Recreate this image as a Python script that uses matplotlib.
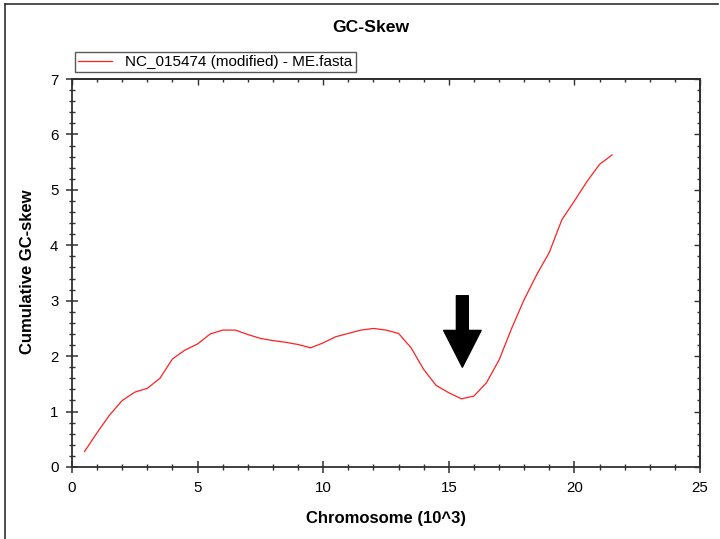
"""
GC-skew plot, cumulative skew along the chromosome.
"""

import matplotlib
matplotlib.use("Agg")
import matplotlib.pyplot as plt
from matplotlib.lines import Line2D
from matplotlib.ticker import MultipleLocator

plt.rcParams["font.family"] = ["Liberation Sans", "DejaVu Sans"]

# data
position_kb = [0.5, 1.0, 1.5, 2.0, 2.5, 3.0, 3.5, 4.0, 4.5, 5.0, 5.5, 6.0, 6.5,
               7.0, 7.5, 8.0, 8.5, 9.0, 9.5, 10.0, 10.5, 11.0, 11.5, 12.0, 12.5,
               13.0, 13.5, 14.0, 14.5, 15.0, 15.5, 16.0, 16.5, 17.0, 17.5, 18.0,
               18.5, 19.0, 19.5, 20.0, 20.5, 21.0, 21.5]
cum_skew = [0.28, 0.62, 0.94, 1.20, 1.35, 1.42, 1.60, 1.95, 2.11, 2.22, 2.40,
            2.47, 2.47, 2.39, 2.32, 2.28, 2.25, 2.21, 2.15, 2.24, 2.35, 2.41,
            2.47, 2.50, 2.47, 2.41, 2.15, 1.76, 1.47, 1.34, 1.23, 1.28, 1.52,
            1.93, 2.50, 3.02, 3.47, 3.87, 4.46, 4.80, 5.15, 5.46, 5.63]
series_name = "NC_015474 (modified) - ME.fasta"

# arrow marking the skew minimum (origin of replication)
arrow_x = 15.54
arrow_tip = 1.80
arrow_tail = 3.09

fig = plt.figure(figsize=(7.2, 5.39), dpi=100)
ax = fig.add_axes([72 / 720, 1 - 467 / 539, 628 / 720, 388 / 539])

ax.plot(position_kb, cum_skew, color="#ff2020", lw=0.9, label=series_name)

ax.set_xlim(0, 25)
ax.set_ylim(0, 7)
ax.xaxis.set_major_locator(MultipleLocator(5))
ax.xaxis.set_minor_locator(MultipleLocator(1))
ax.yaxis.set_major_locator(MultipleLocator(1))
ax.yaxis.set_minor_locator(MultipleLocator(0.2))

axis_col = "#303030"
for s in ax.spines.values():
    s.set_color(axis_col)
    s.set_linewidth(1.3)
ax.tick_params(which="major", direction="inout", length=8.6, width=1.1,
               color=axis_col, labelsize=10.8, pad=5.5)
ax.tick_params(which="minor", direction="inout", length=5, width=1.0,
               color=axis_col)

# top / right axes only get inward ticks
top = ax.secondary_xaxis("top")
right = ax.secondary_yaxis("right")
top.xaxis.set_major_locator(MultipleLocator(5))
top.xaxis.set_minor_locator(MultipleLocator(1))
right.yaxis.set_major_locator(MultipleLocator(1))
right.yaxis.set_minor_locator(MultipleLocator(0.2))
for sec in (top, right):
    sec.tick_params(which="major", direction="in", length=4.3, width=1.0,
                    color=axis_col, labeltop=False, labelright=False)
    sec.tick_params(which="minor", direction="in", length=2.5, width=1.0,
                    color=axis_col)
    for s in sec.spines.values():
        s.set_color(axis_col)
        s.set_linewidth(1.3)

ax.annotate("", xy=(arrow_x, arrow_tip), xytext=(arrow_x, arrow_tail),
            arrowprops=dict(facecolor="black", edgecolor="black", width=8.6,
                            headwidth=27, headlength=26.5, shrink=0))

fig.text(371 / 720, 1 - 28 / 539, "GC-Skew", ha="center", va="center",
         fontsize=12.6, fontweight="bold")
fig.text(386 / 720, 1 - 519 / 539, "Chromosome (10^3)", ha="center",
         va="center", fontsize=12, fontweight="bold")
fig.text(28 / 720, 1 - 272 / 539, "Cumulative GC-skew", ha="center",
         va="center", rotation=90, fontsize=12, fontweight="bold")

leg = ax.legend(loc="upper left", bbox_to_anchor=(75 / 720, 1 - 52 / 539),
                bbox_transform=fig.transFigure, frameon=True, fancybox=False,
                edgecolor="#303030", fontsize=11, borderpad=0.2,
                handlelength=2.2, handletextpad=0.9, borderaxespad=0)
leg.get_frame().set_linewidth(1.0)

# outer frame of the window
fig.add_artist(Line2D([5 / 720, 5 / 720], [0, 1 - 4 / 539], color="#303030",
                      lw=1.2, transform=fig.transFigure))
fig.add_artist(Line2D([5 / 720, 718 / 720], [1 - 4 / 539, 1 - 4 / 539],
                      color="#303030", lw=1.2, transform=fig.transFigure))

fig.savefig("out.png", dpi=100)
